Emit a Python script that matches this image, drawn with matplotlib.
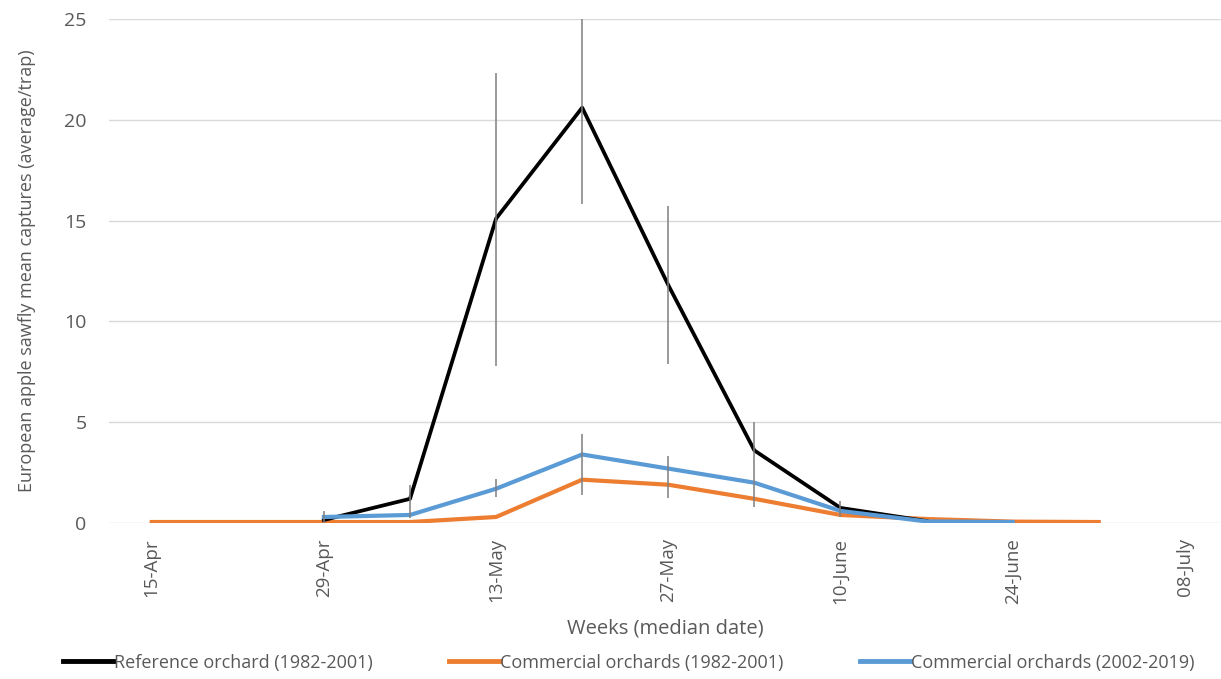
import numpy as np
import matplotlib.pyplot as plt

plt.rcParams['font.family'] = ['Open Sans', 'DejaVu Sans']

# weekly categories (median date)
weeks = ['15-Apr', '22-Apr', '29-Apr', '06-May', '13-May', '20-May', '27-May',
         '03-June', '10-June', '17-June', '24-June', '01-July', '08-July']
tick_labels = ['15-Apr', '', '29-Apr', '', '13-May', '', '27-May',
               '', '10-June', '', '24-June', '', '08-July']

# mean captures per trap (nan = no data)
nan = np.nan
ref_8201 = [nan, nan, 0.15, 1.2, 15.1, 20.6, 11.8, 3.6, 0.75, 0.1, nan, nan, nan]
com_8201 = [0.05, 0.05, 0.05, 0.05, 0.3, 2.15, 1.9, 1.2, 0.4, 0.2, 0.07, 0.05, nan]
com_0219 = [nan, nan, 0.3, 0.4, 1.7, 3.4, 2.7, 2.0, 0.6, 0.08, 0.05, nan, nan]

# error bars (lower, upper) as drawn on the chart
err_x = ['29-Apr', '06-May', '13-May', '20-May', '27-May', '03-June', '10-June']
ref_err_lo = [0.0, 0.25, 7.8, 15.8, 7.9, 0.8, 0.3]
ref_err_hi = [0.6, 1.9, 22.3, 25.0, 15.7, 5.0, 1.1]
com_err_x = ['13-May', '20-May', '27-May']
com_err_lo = [1.3, 1.4, 1.25]
com_err_hi = [2.2, 4.4, 3.3]

fig = plt.figure(figsize=(12.21, 6.79), dpi=100)
ax = fig.add_axes([0.089, 0.2297, 0.911, 0.7425])

x = np.arange(len(weeks))
idx = {w: i for i, w in enumerate(weeks)}

ax.vlines([idx[w] for w in err_x], ref_err_lo, ref_err_hi, color='#7f7f7f', lw=1.1, zorder=4)
ax.vlines([idx[w] for w in com_err_x], com_err_lo, com_err_hi, color='#7f7f7f', lw=1.1, zorder=4)

ax.plot(x, ref_8201, color='black', lw=2.7, label='Reference orchard (1982-2001)', zorder=3)
ax.plot(x, com_8201, color='#ED7D31', lw=3, label='Commercial orchards (1982-2001)', zorder=2)
ax.plot(x, com_0219, color='#5B9BD5', lw=3, label='Commercial orchards (2002-2019)', zorder=3)

ax.set_xlim(-0.5, 12.42)
ax.set_ylim(0, 25)
ax.set_yticks([0, 5, 10, 15, 20, 25])
ax.set_xticks(x)
ax.set_xticklabels(tick_labels, rotation=90, fontsize=13.5, color='#595959')
ax.tick_params(axis='y', labelsize=14, labelcolor='#595959', length=0, pad=16)
ax.tick_params(axis='x', length=0, pad=11)
ax.grid(axis='y', color='#d9d9d9', lw=1)
ax.set_axisbelow(True)
for s in ax.spines.values():
    s.set_visible(False)

ax.set_ylabel('European apple sawfly mean captures (average/trap)', fontsize=13, color='#595959', labelpad=20)
ax.set_xlabel('Weeks (median date)', fontsize=14.5, color='#595959', labelpad=10)

leg = fig.legend(loc='center', bbox_to_anchor=(0.515, 0.024), ncol=3, frameon=False,
                 fontsize=13, handlelength=2.8, handletextpad=0.05, columnspacing=4.2,
                 labelcolor='#595959')
for h in leg.get_lines():
    h.set_linewidth(3.5)

fig.savefig('out.png', dpi=100)
